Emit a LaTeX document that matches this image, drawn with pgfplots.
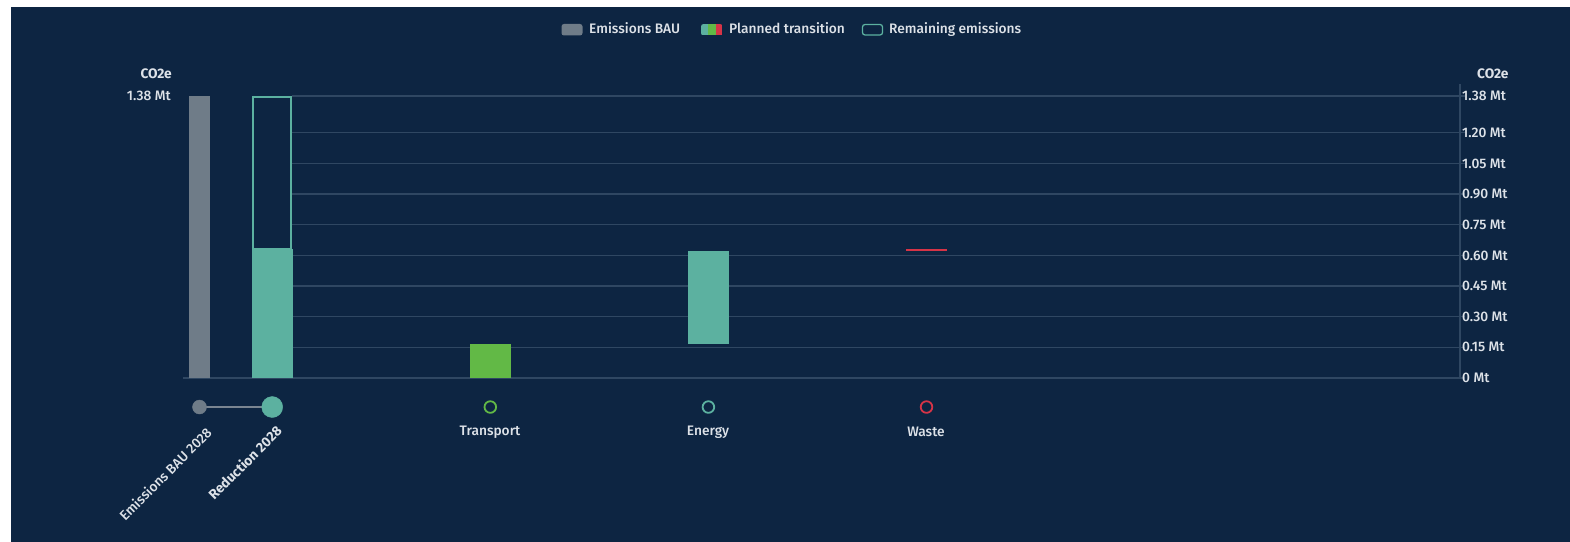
\documentclass[border=0pt]{standalone}
\usepackage{fontspec}
\setmainfont{Fira Sans Medium}[BoldFont={Fira Sans Bold}]
\usepackage{pgfplots}
\pgfplotsset{compat=1.18}
\definecolor{bg}{HTML}{0D2542}
\definecolor{gridc}{HTML}{2F4762}
\definecolor{baug}{HTML}{6F7C88}
\definecolor{tealc}{HTML}{5CB1A0}
\definecolor{greenc}{HTML}{62B946}
\definecolor{redc}{HTML}{D63447}
\definecolor{txt}{HTML}{DDE2E8}
\definecolor{linkc}{HTML}{7A8591}
\newcommand\fs{\fontsize{13.8}{16}\selectfont}
\begin{document}
\begin{tikzpicture}[x=1bp,y=1bp]
\path[use as bounding box] (0,0) rectangle (1570,-542);
\fill[white] (0,0) rectangle (1570,-542);
\fill[bg] (11,-7) rectangle (1570,-542);
% legend
\begin{scope}[font=\fs, text=txt]
\fill[baug, rounded corners=2.5] (561.5,-24) rectangle (582.5,-35.5);
\node[anchor=base west, inner sep=0] at (589,-34) {Emissions BAU};
\begin{scope}
\clip[rounded corners=2.5] (701,-24) rectangle (722.5,-35.5);
\fill[tealc] (701,-24) rectangle (708,-35.5);
\fill[greenc] (708,-24) rectangle (715.5,-35.5);
\fill[redc] (715.5,-24) rectangle (722.5,-35.5);
\end{scope}
\node[anchor=base west, inner sep=0] at (729,-34) {Planned transition};
\draw[tealc, line width=1.3, rounded corners=2.5] (862.5,-24.5) rectangle (882.5,-35);
\node[anchor=base west, inner sep=0] at (889,-34) {Remaining emissions};
\end{scope}
\begin{axis}[at={(183bp,-378bp)}, anchor=south west,
  x=72.7bp, y=204.4bp,
  xmin=-0.227, xmax=17.338, ymin=0, ymax=1.44,
  axis x line=none, axis y line*=right,
  y axis line style={gridc, line width=1.3bp, -},
  ytick={0,0.15,0.3,0.45,0.6,0.75,0.9,1.05,1.2,1.38},
  yticklabels={0 Mt,0.15 Mt,0.30 Mt,0.45 Mt,0.60 Mt,0.75 Mt,0.90 Mt,1.05 Mt,1.20 Mt,1.38 Mt},
  tick align=outside, major tick length=5bp,
  ytick style={gridc, line width=1.3bp},
  yticklabel style={font=\fs, text=txt, anchor=west, inner sep=0pt, xshift=-3bp},
  clip=false]
\pgfplotsinvokeforeach{0.15,0.3,0.45,0.6,0.75,0.9,1.05,1.2,1.38}{
  \draw[gridc, line width=1.3bp] (axis cs:1.272,#1) -- (axis cs:17.338,#1);
}
\draw[gridc, line width=1.3bp] (axis cs:-0.227,0) -- (axis cs:17.338,0);
% Emissions BAU
\addplot[ybar, bar width=21bp, bar shift=0pt, fill=baug, draw=none] coordinates {(0,1.38)};
% Reduction 2028: planned transition part and remaining emissions
\addplot[ybar, bar width=41bp, bar shift=0pt, fill=tealc, draw=none] coordinates {(1,0.63)};
\addplot[draw=tealc, line width=2bp, fill=none] coordinates {(0.735,0.63) (1.265,0.63) (1.265,1.375) (0.735,1.375)} -- cycle;
% Transport
\addplot[ybar, bar width=41bp, bar shift=0pt, fill=greenc, draw=none] coordinates {(4,0.166)};
% Energy (floating)
\addplot[fill=tealc, draw=none] coordinates {(6.718,0.166) (7.282,0.166) (7.282,0.62) (6.718,0.62)} -- cycle;
% Waste (floating, tiny)
\addplot[fill=redc, draw=none] coordinates {(9.718,0.62) (10.282,0.62) (10.282,0.63) (9.718,0.63)} -- cycle;
% markers row
\addplot[draw=linkc, line width=2bp] coordinates {(0,-0.142) (1,-0.142)};
\addplot[only marks, mark=*, mark size=7bp, mark options={fill=baug, draw=baug}] coordinates {(0,-0.142)};
\addplot[only marks, mark=*, mark size=10.5bp, mark options={fill=tealc, draw=tealc}] coordinates {(1,-0.142)};
\addplot[only marks, mark=o, mark size=5.8bp, mark options={draw=greenc, line width=1.8bp}] coordinates {(4,-0.142)};
\addplot[only marks, mark=o, mark size=5.8bp, mark options={draw=tealc, line width=1.8bp}] coordinates {(7,-0.142)};
\addplot[only marks, mark=o, mark size=5.8bp, mark options={draw=redc, line width=1.8bp}] coordinates {(10,-0.142)};
\end{axis}
\begin{scope}[font=\fs, text=txt]
\node[inner sep=0] at (490,-432) {Transport};
\node[inner sep=0] at (708,-432) {Energy};
\node[inner sep=0] at (926,-432) {Waste};
\node[rotate=45, anchor=north east, inner sep=0] at (205,-426) {Emissions BAU 2028};
\node[rotate=45, anchor=north east, inner sep=0] at (275,-424) {\bfseries Reduction 2028};
\node[anchor=east, inner sep=0, font=\fs\bfseries] at (172,-74) {CO2e};
\node[anchor=east, inner sep=0] at (171,-96) {1.38 Mt};
\node[anchor=west, inner sep=0, font=\fs\bfseries] at (1477,-74) {CO2e};
\end{scope}
\end{tikzpicture}
\end{document}
